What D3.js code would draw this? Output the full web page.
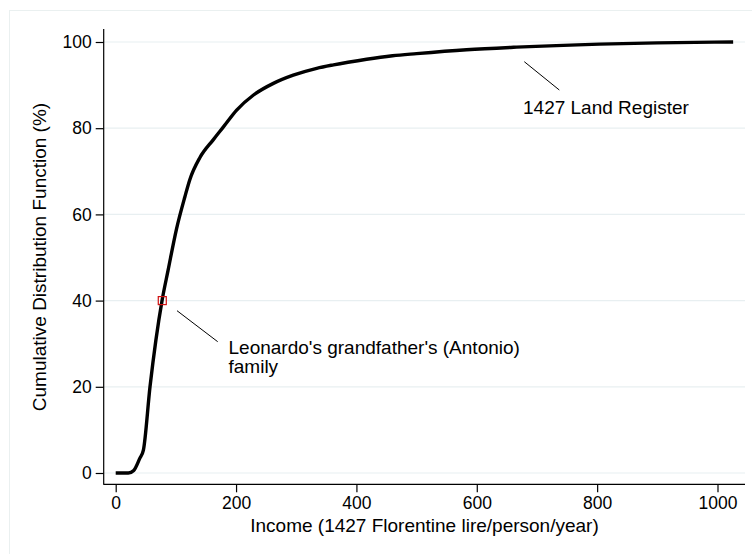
<!DOCTYPE html>
<html><head><meta charset="utf-8">
<script src="https://cdn.jsdelivr.net/npm/d3@7"></script>
<style>
body{margin:0;background:#fff;}
text{font-family:"Liberation Sans",Arial,Helvetica,sans-serif;fill:#000;}
</style></head>
<body><svg id="c" width="752" height="554"></svg>
<script>
const incomes = [0, 21, 30, 40, 46, 57, 77, 87, 101, 115, 123, 140, 162, 179, 201, 229, 262, 295, 334, 362, 386, 417, 460, 500, 583, 666, 804, 900, 1026];
const cdf     = [0, 0, 0.6, 3.4, 5.3, 20, 40, 47, 56.6, 64.1, 68, 73.2, 77.3, 80.3, 84.2, 87.7, 90.4, 92.3, 93.9, 94.7, 95.3, 96.0, 96.8, 97.3, 98.2, 98.8, 99.5, 99.8, 100];
const xTicks = [0, 200, 400, 600, 800, 1000];
const yTicks = [0, 20, 40, 60, 80, 100];
const marker = {x: 77.4, y: 40};
const labelLand = "1427 Land Register";
const labelLeo = ["Leonardo's grandfather's (Antonio)", "family"];
const xTitle = "Income (1427 Florentine lire/person/year)";
const yTitle = "Cumulative Distribution Function (%)";

const svg = d3.select("#c");
const x = d3.scaleLinear().domain([0, 1000]).range([115.7, 717.5]);
const y = d3.scaleLinear().domain([0, 100]).range([473, 42]);
const plotL = 103.7, plotR = 745, axisY = 484.3, axisTop = 29;

// outer frame
svg.append("rect").attr("x", 9.5).attr("y", 10.5).attr("width", 800).attr("height", 600)
  .attr("fill", "none").attr("stroke", "#eaf0f0").attr("stroke-width", 1);

// gridlines
svg.append("g").selectAll("line").data(yTicks).join("line")
  .attr("x1", plotL).attr("x2", plotR)
  .attr("y1", d => y(d)).attr("y2", d => y(d))
  .attr("stroke", "#e8eff1").attr("stroke-width", 1.2);

// y axis
const ya = svg.append("g").attr("transform", `translate(${plotL},0)`)
  .call(d3.axisLeft(y).tickValues(yTicks).tickFormat(d3.format("d")).tickSize(8).tickPadding(4).tickSizeOuter(0));
ya.select(".domain").remove();
ya.append("line").attr("x1", 0).attr("x2", 0).attr("y1", axisTop).attr("y2", axisY + 0.5).attr("stroke", "#000").attr("stroke-width", 1.2);
ya.selectAll(".tick line").attr("stroke", "#000").attr("stroke-width", 1.2);
ya.selectAll(".tick text").attr("font-size", 17.5).attr("font-family", "Liberation Sans, Arial, sans-serif").attr("fill", "#000");

// x axis
const xa = svg.append("g").attr("transform", `translate(0,${axisY})`)
  .call(d3.axisBottom(x).tickValues(xTicks).tickFormat(d3.format("d")).tickSize(8).tickPadding(4).tickSizeOuter(0));
xa.select(".domain").remove();
xa.append("line").attr("x1", plotL).attr("x2", plotR).attr("y1", 0).attr("y2", 0).attr("stroke", "#000").attr("stroke-width", 1.2);
xa.selectAll(".tick line").attr("stroke", "#000").attr("stroke-width", 1.2);
xa.selectAll(".tick text").attr("font-size", 17.5).attr("font-family", "Liberation Sans, Arial, sans-serif").attr("fill", "#000");

// titles
svg.append("text").attr("x", 424.5).attr("y", 531.5).attr("text-anchor", "middle").attr("font-size", 19).text(xTitle);
svg.append("text").attr("transform", "translate(46,257) rotate(-90)").attr("text-anchor", "middle").attr("font-size", 19).text(yTitle);

// curve
const pts = incomes.map((d, i) => [d, cdf[i]]);
svg.append("path").datum(pts)
  .attr("d", d3.line().x(d => x(d[0])).y(d => y(d[1])).curve(d3.curveMonotoneX))
  .attr("fill", "none").attr("stroke", "#000").attr("stroke-width", 3.4).attr("stroke-linejoin", "round");

// marker
svg.append("rect").attr("x", x(marker.x) - 4).attr("y", y(marker.y) - 4).attr("width", 8).attr("height", 8)
  .attr("fill", "none").attr("stroke", "#d01010").attr("stroke-width", 1.2);

// annotations
svg.append("line").attr("x1", 524.3).attr("y1", 61.7).attr("x2", 559.3).attr("y2", 90).attr("stroke", "#000").attr("stroke-width", 1);
svg.append("text").attr("x", 523).attr("y", 113.5).attr("font-size", 19).text(labelLand);
svg.append("line").attr("x1", 177).attr("y1", 310.7).attr("x2", 217.7).attr("y2", 341.7).attr("stroke", "#000").attr("stroke-width", 1);
svg.append("text").attr("x", 228.5).attr("y", 354).attr("font-size", 19).text(labelLeo[0]);
svg.append("text").attr("x", 228.5).attr("y", 373).attr("font-size", 19).text(labelLeo[1]);
</script></body></html>
